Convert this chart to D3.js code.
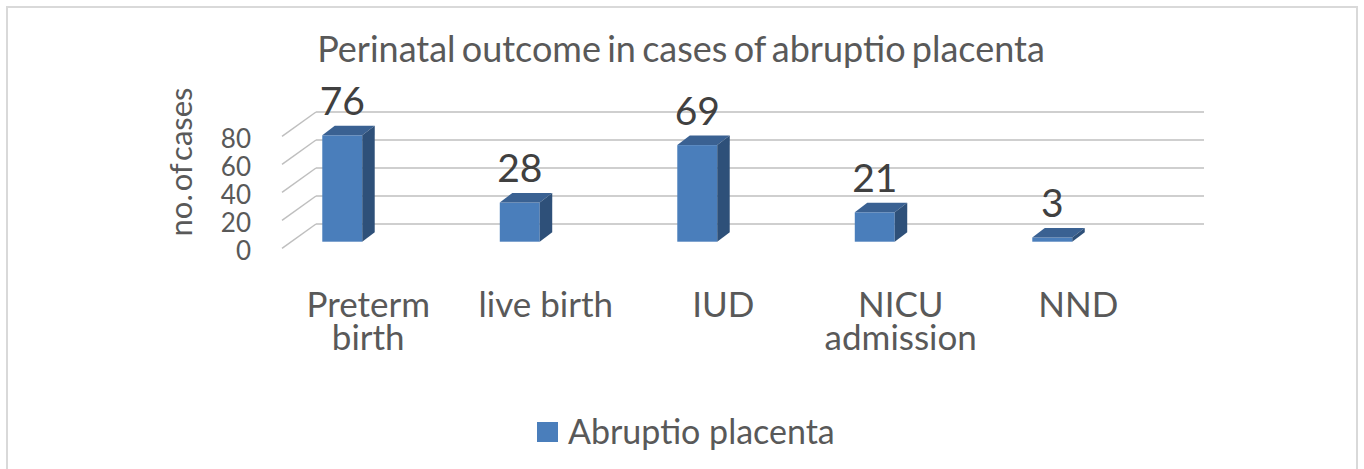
<!DOCTYPE html>
<html>
<head>
<meta charset="utf-8">
<script src="https://cdn.jsdelivr.net/npm/d3@7"></script>
<style>
    body { margin: 0; background: #ffffff; }
    text { font-family: Lato, "Open Sans", sans-serif; fill: #595959; }
</style>
</head>
<body>
<div id="chart"></div>
<script>
// chart data
const categories = [["Preterm", "birth"], ["live birth"], ["IUD"], ["NICU", "admission"], ["NND"]];
const values = [76, 28, 69, 21, 3];
const ticks = [0, 20, 40, 60, 80];
const seriesName = "Abruptio placenta";
const chartTitle = "Perinatal outcome in cases of abruptio placenta";
const yTitle = "no. of cases";

const width = 1364, height = 469;

const svg = d3.select("#chart")
    .append("svg")
    .attr("width", width)
    .attr("height", height);

// outer frame
svg.append("rect")
    .attr("x", 7).attr("y", 7)
    .attr("width", 1350).attr("height", 480)
    .attr("fill", "none")
    .attr("stroke", "#d9d9d9")
    .attr("stroke-width", 2);

// 3d offsets: wall depth and bar depth
const wall = {dx: 34, dy: 24.3};
const depth = {dx: 12.5, dy: -9.5};

// scales
const x = d3.scaleBand()
    .domain(d3.range(values.length))
    .range([253.5, 1141])
    .padding(0);

const yWall = d3.scaleLinear().domain([0, 80]).range([224, 112]);
const yBar = d3.scaleLinear().domain([0, 80]).range([241.7, 129.7]);
const barW = x.bandwidth() * 0.225;

// gridlines on back wall + side wall
const grid = svg.append("g");
grid.selectAll(".hline")
    .data(ticks)
    .enter().append("line")
    .attr("x1", 316).attr("x2", 1204)
    .attr("y1", d => yWall(d)).attr("y2", d => yWall(d))
    .attr("stroke", "#bfbfbf").attr("stroke-width", 1.5);

grid.selectAll(".dline")
    .data(ticks)
    .enter().append("line")
    .attr("x1", 316 - wall.dx).attr("x2", 316)
    .attr("y1", d => yWall(d) + wall.dy).attr("y2", d => yWall(d))
    .attr("stroke", "#bfbfbf").attr("stroke-width", 1.5);

// tick labels
svg.selectAll(".tick_label")
    .data(ticks)
    .enter().append("text")
    .attr("class", "tick_label")
    .attr("x", 251)
    .attr("y", d => yWall(d) + wall.dy + 2)
    .attr("dy", "0.36em")
    .attr("text-anchor", "end")
    .attr("font-size", "26px")
    .text(d => d);

// bars
const bars = svg.selectAll(".bar")
    .data(values)
    .enter().append("g")
    .attr("class", "bar");

bars.append("rect")
    .attr("x", (d, i) => x(i) + x.bandwidth() / 2 - barW / 2)
    .attr("y", d => yBar(d))
    .attr("width", barW)
    .attr("height", d => yBar(0) - yBar(d))
    .attr("fill", "#4a7ebb");

bars.append("path")
    .attr("d", (d, i) => {
        const x0 = x(i) + x.bandwidth() / 2 - barW / 2, x1 = x0 + barW, yt = yBar(d);
        return `M${x0},${yt}L${x1},${yt}L${x1 + depth.dx},${yt + depth.dy}L${x0 + depth.dx},${yt + depth.dy}Z`;
    })
    .attr("fill", "#3a6192");

bars.append("path")
    .attr("d", (d, i) => {
        const x1 = x(i) + x.bandwidth() / 2 + barW / 2, yt = yBar(d), yb = yBar(0);
        return `M${x1},${yt}L${x1 + depth.dx},${yt + depth.dy}L${x1 + depth.dx},${yb + depth.dy}L${x1},${yb}Z`;
    })
    .attr("fill", "#2e5079");

// value labels
svg.selectAll(".n_label")
    .data(values)
    .enter().append("text")
    .attr("class", "n_label")
    .attr("x", (d, i) => x(i) + x.bandwidth() / 2)
    .attr("y", d => yBar(d) + depth.dy - 11)
    .attr("text-anchor", "middle")
    .attr("font-size", "39px")
    .style("fill", "#404040")
    .text(d => d);

// category labels
const cat = svg.selectAll(".cat_label")
    .data(categories)
    .enter().append("text")
    .attr("class", "cat_label")
    .attr("text-anchor", "middle")
    .attr("font-size", "35px");

cat.selectAll("tspan")
    .data((d, i) => d.map(t => ({t: t, i: i})))
    .enter().append("tspan")
    .attr("x", d => x(d.i) + x.bandwidth() / 2 + 26)
    .attr("y", (d, j) => 317 + j * 33)
    .text(d => d.t);

// title
svg.append("text")
    .attr("x", 681)
    .attr("y", 62)
    .attr("text-anchor", "middle")
    .attr("font-size", "36px")
    .style("word-spacing", "-3px")
    .text(chartTitle);

// y axis title
svg.append("text")
    .attr("transform", "translate(192,162) rotate(-90)")
    .attr("text-anchor", "middle")
    .attr("font-size", "31px")
    .style("word-spacing", "-5px")
    .text(yTitle);

// legend
svg.append("rect")
    .attr("x", 537).attr("y", 422)
    .attr("width", 21).attr("height", 20)
    .attr("fill", "#4a7ebb");

svg.append("text")
    .attr("x", 568)
    .attr("y", 444)
    .attr("font-size", "34px")
    .text(seriesName);
</script>
</body>
</html>
